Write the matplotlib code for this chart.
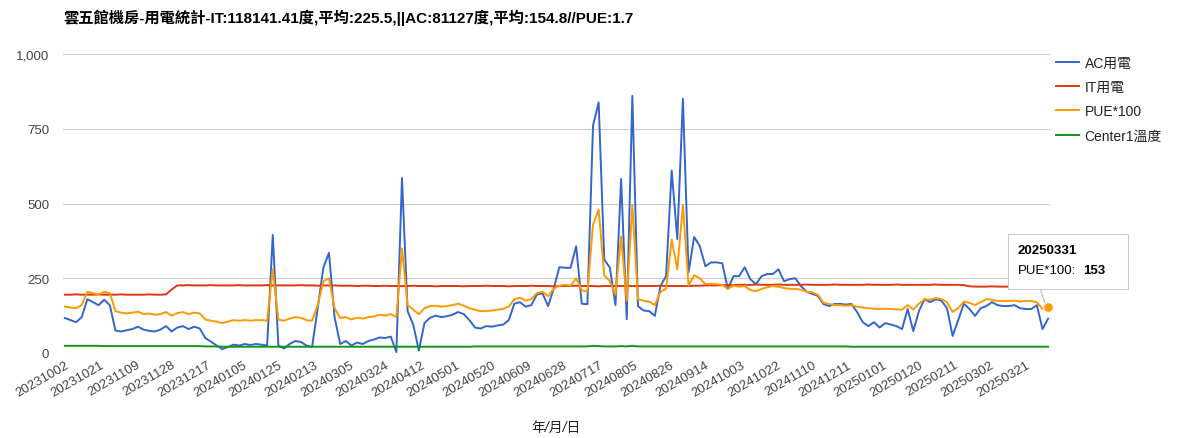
import numpy as np
import matplotlib
matplotlib.use('Agg')
import matplotlib.pyplot as plt
from matplotlib.patches import Rectangle
from matplotlib.lines import Line2D

plt.rcParams['font.family'] = ['Liberation Sans', 'Noto Sans CJK TC', 'DejaVu Sans']

title = '雲五館機房-用電統計-IT:118141.41度,平均:225.5,||AC:81127度,平均:154.8//PUE:1.7'
xlabel = '年/月/日'
series_names = ['AC用電', 'IT用電', 'PUE*100', 'Center1溫度']
colors = ['#3366cc', '#dc3912', '#ff9900', '#109618']

# category axis labels, one every 19 days
tick_labels = ['20231002', '20231021', '20231109', '20231128', '20231217', '20240105',
               '20240125', '20240213', '20240305', '20240324', '20240412', '20240501',
               '20240520', '20240609', '20240628', '20240717', '20240805', '20240826',
               '20240914', '20241003', '20241022', '20241110', '20241211', '20250101',
               '20250120', '20250211', '20250302', '20250321']
tick_every = 19
last_date = '20250331'

# values, one sample every 3 days
step = 3
ac = [117, 110, 103, 120, 180, 170, 160, 178, 160, 75,
      72, 76, 80, 88, 78, 74, 72, 78, 90, 72,
      85, 90, 80, 88, 82, 50, 38, 25, 13, 20,
      28, 25, 30, 27, 30, 28, 25, 395, 25, 15,
      30, 40, 37, 25, 20, 150, 285, 335, 120, 30,
      40, 25, 35, 30, 40, 45, 52, 50, 55, 3,
      585, 140, 95, 8, 100, 118, 125, 120, 123, 128,
      137, 130, 110, 85, 82, 90, 88, 92, 95, 110,
      165, 170, 155, 160, 195, 200, 157, 215, 287, 285,
      285, 357, 165, 163, 760, 838, 313, 285, 160, 582,
      113, 860, 157, 142, 140, 124, 224, 257, 610, 381,
      850, 270, 388, 358, 290, 303, 303, 300, 214, 257,
      257, 287, 247, 230, 257, 264, 264, 280, 240, 247,
      250, 224, 205, 198, 191, 164, 157, 164, 164, 162,
      164, 137, 103, 90, 103, 85, 100, 95, 90, 80,
      147, 73, 140, 180, 170, 180, 175, 150, 57, 110,
      165, 147, 124, 150, 157, 170, 160, 157, 157, 160,
      150, 147, 147, 160, 80, 115]

it = [195, 195, 196, 195, 195, 195, 196, 195, 195, 195,
      196, 195, 195, 195, 195, 196, 195, 195, 196, 212,
      226, 226, 227, 226, 226, 226, 227, 226, 226, 226,
      226, 227, 226, 226, 226, 226, 227, 226, 226, 226,
      226, 226, 227, 226, 226, 225, 226, 226, 226, 225,
      225, 225, 224, 225, 225, 224, 224, 225, 224, 224,
      224, 224, 225, 224, 224, 224, 223, 224, 224, 224,
      224, 223, 224, 224, 224, 225, 224, 224, 224, 223,
      224, 224, 224, 225, 224, 224, 224, 223, 224, 224,
      224, 225, 224, 224, 224, 223, 224, 224, 224, 224,
      225, 224, 224, 224, 224, 224, 225, 224, 224, 224,
      224, 224, 225, 225, 226, 226, 226, 227, 227, 227,
      228, 228, 228, 229, 228, 228, 228, 229, 228, 228,
      228, 228, 229, 228, 228, 228, 228, 229, 228, 228,
      228, 228, 228, 229, 228, 228, 228, 228, 229, 228,
      228, 228, 228, 228, 228, 229, 228, 228, 228, 228,
      227, 223, 222, 222, 222, 223, 222, 222, 222, 222,
      222, 223, 222, 222, 222, 222]

pue = [155, 152, 150, 160, 205, 200, 195, 205, 200, 140,
       135, 132, 135, 138, 130, 132, 128, 130, 137, 125,
       133, 137, 130, 135, 132, 112, 108, 105, 100, 105,
       110, 108, 110, 108, 110, 110, 108, 280, 112, 108,
       115, 120, 118, 110, 108, 160, 240, 250, 150, 117,
       120, 112, 118, 115, 120, 122, 128, 125, 130, 120,
       350, 160, 145, 130, 150, 157, 158, 155, 157, 160,
       165, 158, 150, 145, 140, 140, 142, 145, 148, 155,
       180, 185, 175, 180, 200, 205, 190, 215, 225, 228,
       225, 250, 210, 205, 430, 480, 260, 240, 195, 390,
       175, 495, 180, 175, 172, 160, 205, 215, 380, 280,
       495, 225, 260, 250, 230, 232, 230, 228, 215, 225,
       222, 224, 210, 207, 214, 220, 224, 222, 217, 215,
       214, 212, 205, 203, 195, 168, 164, 160, 160, 158,
       160, 155, 152, 150, 148, 147, 148, 147, 146, 145,
       160, 145, 165, 180, 178, 184, 180, 170, 137, 150,
       172, 168, 160, 170, 180, 178, 174, 174, 174, 175,
       172, 174, 174, 170, 147, 153]

temp = [24, 24, 24, 24, 24, 24, 24, 23, 23, 23,
        23, 23, 23, 23, 23, 23, 23, 23, 23, 23,
        23, 23, 23, 23, 23, 22, 22, 22, 21, 21,
        21, 21, 21, 21, 21, 21, 21, 21, 21, 21,
        21, 21, 21, 21, 21, 21, 21, 21, 21, 21,
        21, 21, 21, 21, 21, 21, 21, 21, 21, 21,
        21, 21, 21, 21, 21, 21, 21, 21, 21, 21,
        21, 21, 21, 22, 22, 22, 22, 22, 22, 22,
        22, 22, 22, 22, 22, 22, 22, 22, 22, 22,
        22, 22, 22, 22, 24, 23, 22, 22, 22, 23,
        22, 24, 22, 22, 22, 22, 22, 22, 22, 22,
        22, 22, 22, 22, 22, 22, 22, 22, 22, 22,
        22, 22, 22, 22, 22, 22, 22, 22, 22, 22,
        22, 22, 22, 22, 22, 22, 22, 22, 22, 22,
        21, 21, 21, 21, 21, 21, 21, 21, 21, 21,
        21, 21, 21, 21, 21, 21, 21, 21, 21, 21,
        21, 21, 21, 21, 21, 21, 21, 21, 21, 21,
        21, 21, 21, 21, 21, 21]

x = np.arange(len(ac)) * step

fig = plt.figure(figsize=(11.9, 4.39), dpi=100)
ax = fig.add_axes([63/1190, 1 - 354/439, 987/1190, 299/439])

for vals, name, c in zip([ac, it, pue, temp], series_names, colors):
    ax.plot(x, vals, color=c, lw=1.4, label=name, solid_joinstyle='round')

# highlighted point (tooltip)
ax.plot(x[-1], pue[-1], 'o', ms=7, color=colors[2], mec='white', mew=0.8,
        zorder=5, clip_on=False)

ax.set_xlim(-1, x[-1] + 1)
ax.set_ylim(0, 1000)
ax.set_yticks([0, 250, 500, 750, 1000])
ax.set_yticklabels(['0', '250', '500', '750', '1,000'])
ax.set_xticks(np.arange(len(tick_labels)) * tick_every)
ax.set_xticklabels(tick_labels, rotation=30, ha='right', rotation_mode='anchor')
ax.tick_params(axis='both', length=0, colors='#444444', labelsize=9.5)
ax.tick_params(axis='x', pad=4)
ax.tick_params(axis='y', pad=10)
ax.yaxis.grid(True, color='#cccccc', lw=0.8)
ax.set_axisbelow(True)
for s in ax.spines.values():
    s.set_visible(False)

fig.text(63/1190, 1 - 18/439, title, fontsize=11, fontweight='bold', color='#000000',
         ha='left', va='center')
fig.text(556/1190, 1 - 428/439, xlabel, fontsize=10, style='italic', color='#222222',
         ha='center', va='center')

fig.legend(loc='upper left', bbox_to_anchor=(1043/1190, 1 - 44/439), frameon=False,
           fontsize=10, handlelength=1.7, handletextpad=0.4, labelspacing=0.75,
           labelcolor='#222222')

# tooltip box with pointer
fig.add_artist(Line2D([1040/1190, 1045/1190], [1 - 290/439, 1 - 304/439],
                      color='#bbbbbb', lw=0.8, zorder=9))
fig.patches.append(Rectangle((1008/1190, 1 - 290/439), 120/1190, 55/439,
                             transform=fig.transFigure, facecolor='white',
                             edgecolor='#cccccc', lw=0.8, zorder=10))
fig.text(1018/1190, 1 - 251/439, last_date, fontsize=9.5, fontweight='bold',
         color='#000000', va='center', zorder=11)
fig.text(1018/1190, 1 - 271/439, 'PUE*100:', fontsize=9.5, color='#000000',
         va='center', zorder=11)
fig.text(1083/1190, 1 - 271/439, str(pue[-1]), fontsize=9.5, fontweight='bold',
         color='#000000', va='center', zorder=11)

fig.savefig('out.png', dpi=100)
